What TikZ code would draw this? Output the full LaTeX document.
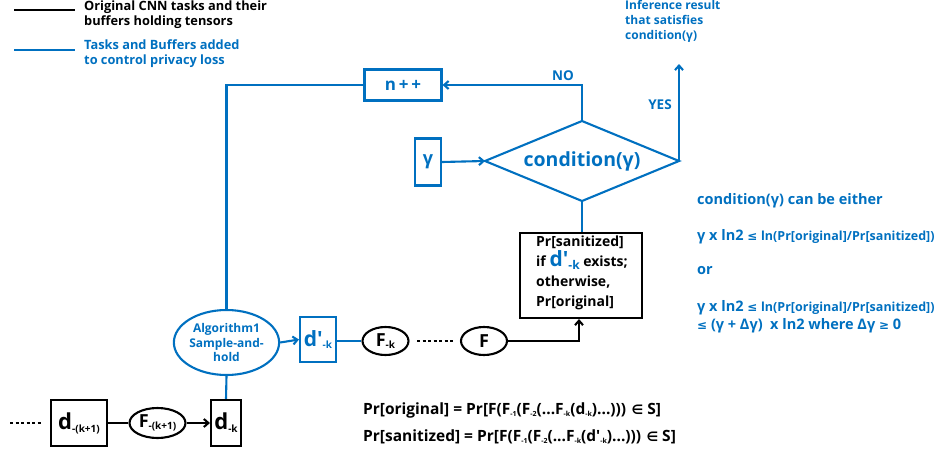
\documentclass[tikz,border=0pt]{standalone}
\usepackage{fontspec}
\setmainfont{Open Sans}[BoldFont={Open Sans Bold}]
\newfontfamily\symf{DejaVu Sans}[BoldFont={DejaVu Sans Bold}]
\usetikzlibrary{arrows.meta,shapes.geometric}
\definecolor{pblue}{RGB}{0,112,192}
\newcommand\lo[2][7]{\raisebox{-0.25ex}{\fontsize{#1}{#1}\selectfont #2}}
\newcommand\ap{\textquotesingle}
\newcommand\fs[1]{\fontsize{#1}{#1}\selectfont}
\tikzset{
  bk/.style={draw=black,line width=2.1pt},
  bl/.style={draw=pblue,line width=2.1pt},
  arr/.style={-{Straight Barb[length=4.5pt,width=8pt]}},
  txt/.style={font=\bfseries,inner sep=0pt},
  btxt/.style={font=\bfseries,text=pblue,inner sep=0pt},
}
\begin{document}
\begin{tikzpicture}[x=1pt,y=-1pt]
\useasboundingbox (0,0) rectangle (942,455);
% legend
\coordinate (l1a) at (14,10); \coordinate (l1b) at (75,10);
\coordinate (l2a) at (14,50); \coordinate (l2b) at (75,50);
\draw[bk] (l1a) -- (l1b);
\draw[bl] (l2a) -- (l2b);
\node[txt,anchor=north west,align=left,font=\bfseries\fontsize{12.8}{14.5}\selectfont] (leg1) at (84,1) {Original CNN tasks and their\\buffers holding tensors};
\node[btxt,anchor=north west,align=left,font=\bfseries\fontsize{12.8}{14.5}\selectfont] (leg2) at (84,40) {Tasks and Buffers added\\to control privacy loss};
% inference result
\node[btxt,anchor=north west,align=left,font=\bfseries\fontsize{12}{15}\selectfont] (inf) at (625,0) {Inference result\\that satisfies\\condition(γ)};
% n++
\node[bl,minimum width=77pt,minimum height=31pt,font=\bfseries\fs{17},text=pblue,inner sep=0pt] (npp) at (403,85) {n\,+\,+};
% diamond
\coordinate (dt) at (582,121); \coordinate (db) at (582,201);
\coordinate (dl) at (485,161); \coordinate (dr) at (679,161);
\draw[bl,line join=miter] (dt) -- (dr) -- (db) -- (dl) -- cycle;
\node[btxt,font=\bfseries\fs{19.5}] (cond) at (582,161) {condition(γ)};
% gamma box
\node[bl,minimum width=26pt,minimum height=47pt,font=\bfseries\fs{18},text=pblue,inner sep=0pt] (gam) at (428,162) {γ};
\draw[bl,arr] (gam.east) -- (dl);
% NO
\draw[bl,arr] (dt) |- (npp.east);
\node[btxt,font=\bfseries\fs{13.5}] (no) at (563,76) {NO};
% YES
\coordinate (yesend) at (679,64);
\draw[bl,arr] (dr) -- (yesend);
\node[btxt,font=\bfseries\fs{13.5}] (yes) at (660,105) {YES};
% Pr box
\node[bk,minimum width=122pt,minimum height=85pt,inner sep=0pt] (prb) at (581,275.5) {};
\node[txt,anchor=north west,align=left,font=\bfseries\fontsize{14}{20}\selectfont] (prt) at (536,236) {Pr[sanitized]\\if {\color{pblue}\fs{21}d\ap\lo[12]{-k}} exists;\\otherwise,\\Pr[original]};
\draw[bl] (db) -- (prb.north -| db);
% Algorithm ellipse
\node[bl,ellipse,minimum width=99pt,minimum height=65pt,inner sep=0pt,align=center,text=pblue,font=\bfseries\fontsize{12}{14.5}\selectfont] (alg) at (226.5,342.5) {Algorithm1\\Sample-and-\\hold};
\draw[bl] (npp.west) -| (alg.north);
% d' box
\node[bl,minimum width=36pt,minimum height=45pt,inner sep=0pt,text=pblue,font=\bfseries\fs{21}] (dp) at (318,339.5) {d\ap\lo[10]{-k}};
\draw[bl,arr] (alg.east) -- (dp.west);
% F-k
\node[bk,ellipse,minimum width=46pt,minimum height=28pt,inner sep=0pt,font=\bfseries\fs{18}] (fk) at (385.5,341) {F\lo[10]{-k}};
\draw[bl] (dp.east |- fk.west) -- (fk.west);
\coordinate (dots1a) at (417,341); \coordinate (dots1b) at (455,341);
\draw[black,line width=2pt,dash pattern=on 3pt off 2.5pt] (dots1a) -- (dots1b);
% F
\node[bk,ellipse,minimum width=46pt,minimum height=28pt,inner sep=0pt,font=\bfseries\fs{18}] (f) at (484,341) {F};
\coordinate (fc) at (579,341);
\draw[bk,arr] (f.east) -- (fc) -- (fc |- prb.south);
% d-k
\node[bk,minimum width=30pt,minimum height=46pt,inner sep=0pt,font=\bfseries\fs{22}] (dk) at (226,423) {d\lo[10]{-k}};
\draw[bl] (alg.south) -- (dk.north);
% F-(k+1)
\node[bk,ellipse,minimum width=56pt,minimum height=30pt,inner sep=0pt,font=\bfseries\fs{18}] (fk1) at (157.5,423) {F\lo[10]{-(k+1)}};
\draw[bk,arr] (fk1.east) -- (dk.west);
% d-(k+1)
\node[bk,minimum width=56pt,minimum height=46pt,inner sep=0pt,font=\bfseries\fs{22}] (dk1) at (79,423) {d\lo[10]{-(k+1)}};
\draw[bk] (dk1.east) -- (fk1.west);
\coordinate (dots2a) at (10,423); \coordinate (dots2b) at (42,423);
\draw[black,line width=2pt,dash pattern=on 3pt off 2.5pt] (dots2a) -- (dots2b);
% equations
\node[txt,anchor=west,font=\bfseries\fs{15.5}] (eq1) at (363,410) {Pr[original] = Pr[F(F\lo[7]{-1}(F\lo[7]{-2}(...F\lo[7]{-k}(d\lo[7]{-k})...))) {\symf\fs{13}∈} S]};
\node[txt,anchor=west,font=\bfseries\fs{15.5}] (eq2) at (363,437) {Pr[sanitized] = Pr[F(F\lo[7]{-1}(F\lo[7]{-2}(...F\lo[7]{-k}(d\ap\lo[7]{-k})...))) {\symf\fs{13}∈} S]};
% right text
\node[btxt,anchor=west,font=\bfseries\fs{14.5}] (c1) at (697,201) {condition(γ) can be either};
\node[btxt,anchor=west,font=\bfseries\fs{14.5}] (c2) at (697,237) {γ x ln2 {\symf\fs{12}≤} {\fs{12.5}ln(Pr[original]/Pr[sanitized])}};
\node[btxt,anchor=west,font=\bfseries\fs{14.5}] (c3) at (697,271) {or};
\node[btxt,anchor=west,font=\bfseries\fs{14.5}] (c4) at (697,308) {γ x ln2 {\symf\fs{12}≤} {\fs{12.5}ln(Pr[original]/Pr[sanitized])}};
\node[btxt,anchor=west,font=\bfseries\fs{14.5}] (c5) at (697,326) {{\symf\fs{12}≤} (γ + Δγ)~ x ln2 where Δγ {\symf\fs{12}≥} 0};
\end{tikzpicture}
\end{document}
